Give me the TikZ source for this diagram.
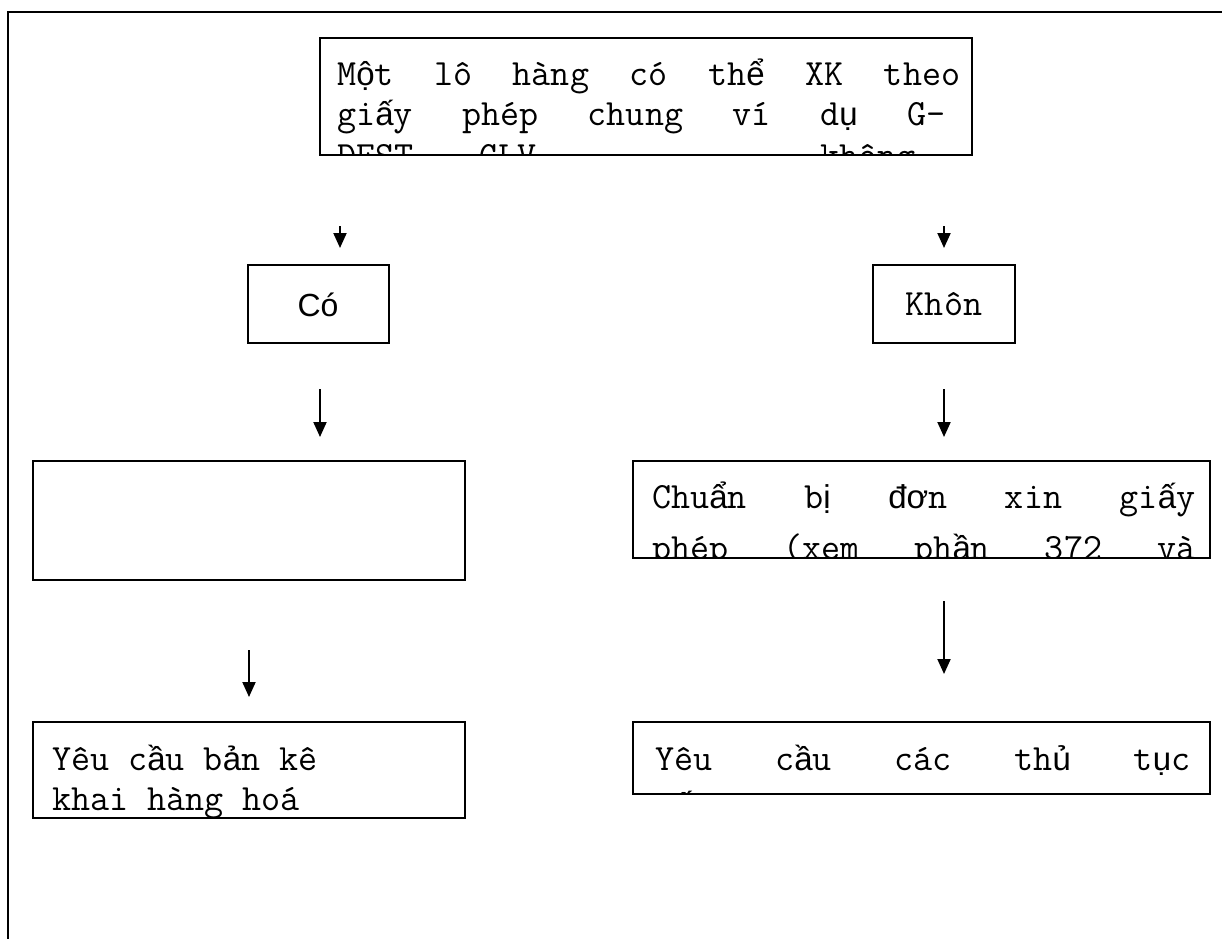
\documentclass[tikz,border=0pt]{standalone}
\usepackage{fontspec}
\usetikzlibrary{arrows.meta}
\newfontfamily\cour{Latin Modern Mono}
\newfontfamily\vsans{Liberation Sans}
\newcommand\vs[1]{{\vsans\fontsize{33}{40}\selectfont #1}}
\begin{document}
\begin{tikzpicture}[x=1pt,y=-1pt,
  frameline/.style={line width=2.5pt},
  boxline/.style={line width=2.5pt},
  arr/.style={line width=2pt,-{Triangle[length=15pt,width=13pt]}},
  txt/.style={anchor=base west,inner sep=0pt,font=\cour\fontsize{37}{40}\selectfont},
  ctxt/.style={anchor=base,inner sep=0pt,font=\cour\fontsize{37}{40}\selectfont},
  stxt/.style={anchor=base,inner sep=0pt,font=\vsans\fontsize{32}{38}\selectfont},
]
\useasboundingbox (0,0) rectangle (1222,938);
% outer frame
\coordinate (fbl) at (8,940);
\coordinate (ftl) at (8,12);
\coordinate (ftr) at (1224,12);
\draw[frameline] (fbl) -- (ftl) -- (ftr);

% top box
\draw[boxline] (320,38) rectangle (972,155);
\begin{scope}
\clip (321,39) rectangle (971,154);
\node[txt] (top1) at (337,85) {\makebox[623pt][l]{M\vs{ộ}t\hfill lô\hfill hàng\hfill có\hfill th\vs{ể}\hfill XK\hfill theo}};
\node[txt] (top2) at (337,125) {\makebox[608pt][l]{gi\vs{ấ}y\hfill phép\hfill chung\hfill ví\hfill d\vs{ụ}\hfill G-}};
\node[txt] (top3) at (337,167) {DEST\hspace{66pt}GLV\hspace{284pt}không};
\end{scope}

% Co / Khon boxes
\draw[boxline] (248,265) rectangle (389,343);
\node[stxt] (co) at (318,316) {Có};
\draw[boxline] (873,265) rectangle (1015,343);
\node[ctxt] (khon) at (944,315) {Khôn};

% middle boxes
\draw[boxline] (33,461) rectangle (465,580);
\draw[boxline] (633,461) rectangle (1210,558);
\begin{scope}
\clip (634,462) rectangle (1209,557);
\node[txt] (rm1) at (652,508) {\makebox[543pt][l]{Chu\vs{ẩ}n\hfill b\vs{ị}\hfill \vs{đơ}n\hfill xin\hfill gi\vs{ấ}y}};
\node[txt] (rm2) at (652,559) {\makebox[543pt][l]{phép\hfill (xem\hfill ph\vs{ầ}n\hfill 372\hfill và}};
\end{scope}

% bottom boxes
\draw[boxline] (33,722) rectangle (465,818);
\begin{scope}
\clip (34,723) rectangle (464,817);
\node[txt] (lb1) at (52,770) {Yêu c\vs{ầ}u b\vs{ả}n kê};
\node[txt] (lb2) at (52,810) {khai hàng hoá};
\end{scope}
\draw[boxline] (633,722) rectangle (1210,794);
\begin{scope}
\clip (634,723) rectangle (1209,793);
\node[txt] (rb1) at (655,770) {\makebox[535pt][l]{Yêu\hfill c\vs{ầ}u\hfill các\hfill th\vs{ủ}\hfill t\vs{ụ}c}};
\node[txt] (rb2) at (655,816) {c\vs{ấ}p};
\end{scope}

% arrows
\coordinate (a1s) at (340,226); \coordinate (a1e) at (340,248);
\coordinate (a2s) at (944,226); \coordinate (a2e) at (944,248);
\coordinate (a3s) at (320,389); \coordinate (a3e) at (320,437);
\coordinate (a4s) at (944,389); \coordinate (a4e) at (944,437);
\coordinate (a5s) at (249,650); \coordinate (a5e) at (249,697);
\coordinate (a6s) at (944,601); \coordinate (a6e) at (944,674);
\draw[arr] (a1s) -- (a1e);
\draw[arr] (a2s) -- (a2e);
\draw[arr] (a3s) -- (a3e);
\draw[arr] (a4s) -- (a4e);
\draw[arr] (a5s) -- (a5e);
\draw[arr] (a6s) -- (a6e);
\end{tikzpicture}
\end{document}
